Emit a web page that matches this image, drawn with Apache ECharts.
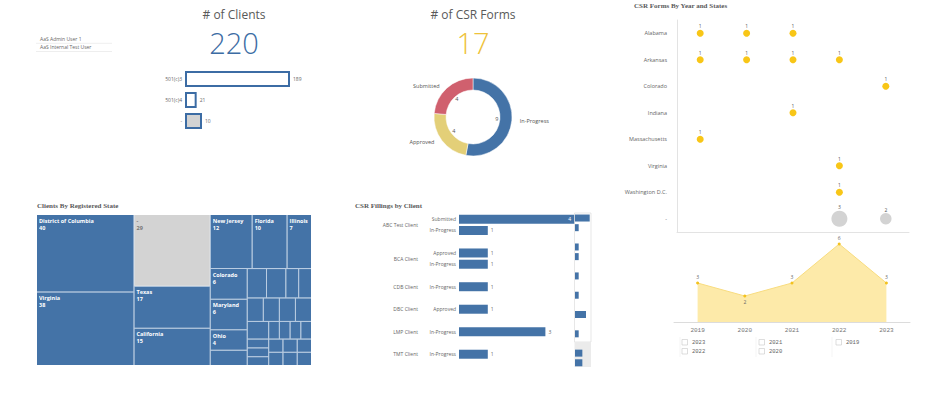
<!DOCTYPE html>
<html>
<head>
<meta charset="utf-8">
<script src="https://cdn.jsdelivr.net/npm/echarts@6/dist/echarts.min.js"></script>
<style>
  html, body { margin: 0; padding: 0; background: #fff; }
  #main { width: 940px; height: 398px; }
</style>
</head>
<body>
<div id="main"></div>
<script>
  // user list (top left)
  const users = ['AaS Admin User 1', 'AaS Internal Test User'];

  // KPIs
  const clientTotal = 220;
  const formTotal = 17;

  // clients by tax type
  const taxTypes = ['501(c)3', '501(c)4', '-'];
  const taxCounts = [189, 21, 10];

  // CSR forms by status
  const statusNames = ['In-Progress', 'Approved', 'Submitted'];
  const statusCounts = [9, 4, 4];

  // CSR forms by year and state
  const years = ['2019', '2020', '2021', '2022', '2023'];
  const formStates = ['Alabama', 'Arkansas', 'Colorado', 'Indiana', 'Massachusetts', 'Virginia', 'Washington D.C.', '-'];
  const formCounts = [
    [1, 1, 1, 0, 0],
    [1, 1, 1, 1, 0],
    [0, 0, 0, 0, 1],
    [0, 0, 1, 0, 0],
    [1, 0, 0, 0, 0],
    [0, 0, 0, 1, 0],
    [0, 0, 0, 1, 0],
    [0, 0, 0, 3, 2],
  ];
  const formsPerYear = [3, 2, 3, 6, 3];

  // clients by registered state (small cells have no readable name)
  const regStates = ['District of Columbia', 'Virginia', '-', 'Texas', 'California', 'New Jersey', 'Florida', 'Illinois',
    'Maryland', 'Colorado', 'Ohio', '', '', '', '', '', '', '', '', '', '', '', '', '', '', '', '', '', '', '', '', '', '', ''];
  const regCounts = [40, 38, 29, 17, 15, 12, 10, 7, 6, 6, 4, 3, 3, 3, 2, 2, 2, 2, 2, 2, 2, 1, 1, 1, 1, 1, 1, 1, 1, 1, 1, 1, 1, 1];

  // CSR filings by client, one slot per bar row (empty slots are gaps)
  const filingClients = ['ABC Test Client', 'BCA Client', 'CDB Client', 'DBC Client', 'LMP Client', 'TMT Client'];
  const slotStatus = ['Submitted', 'In-Progress', '', 'Approved', 'In-Progress', '', 'In-Progress', '', 'Approved', '', 'In-Progress', '', 'In-Progress', '', '', ''];
  const slotClient = [0, 0, null, 1, 1, null, 2, null, 3, null, 4, null, 5, null, 6, 6];
  const slotCounts = [4, 1, null, 1, 1, null, 1, null, 1, null, 3, null, 1, null, 2, 2];
  const visibleSlots = 13;

  const blue = '#4473a7';
  const kpiBlue = '#3c6ca4';
  const gold = '#eec23a';
  const yellow = '#f8c617';
  const grey = '#d3d3d3';
  const muted = '#666';
  const headFont = { fontFamily: 'Liberation Serif', fontWeight: 'bold', fontSize: 7, color: '#595959' };

  // client labels sit between their rows: use a finer axis (2 ticks per slot)
  const fineLabels = new Array(2 * visibleSlots + 1).fill('');
  filingClients.forEach((name, c) => {
    const idx = slotClient.map((v, i) => (v === c ? i : -1)).filter((i) => i >= 0 && i < visibleSlots);
    if (idx.length) fineLabels[idx[0] + idx[idx.length - 1] + 1] = name;
  });

  const scatterData = [];
  formCounts.forEach((row, s) => {
    row.forEach((v, y) => {
      if (v > 0) scatterData.push([y, s, v]);
    });
  });

  const filingMax = Math.max(...slotCounts.filter((v) => v != null));

  // listbox of years (2 rows per column, newest first)
  const boxCols = [682, 759, 836];
  const boxRows = [339.5, 348.5];
  const listGraphics = [];
  years.slice().reverse().forEach((yr, k) => {
    const x = boxCols[Math.floor(k / 2)];
    const y = boxRows[k % 2];
    listGraphics.push({
      type: 'rect', shape: { x: x, y: y, width: 5.5, height: 5.5 },
      style: { fill: '#fff', stroke: '#c8c8c8', lineWidth: 0.6 },
    });
    listGraphics.push({
      type: 'text', x: x + 10, y: y + 3,
      style: { text: yr, fill: muted, font: '5.5px "Liberation Mono"', align: 'left', verticalAlign: 'middle',
        textAlign: 'left', textVerticalAlign: 'middle' },
    });
  });
  [680, 756, 832].forEach((x) => {
    listGraphics.push({ type: 'line', shape: { x1: x, y1: 337, x2: x, y2: 357 }, style: { stroke: '#eeeeee', lineWidth: 0.6 } });
  });

  const chart = echarts.init(document.getElementById('main'), null, { renderer: 'svg' });

  chart.setOption({
    animation: false,
    textStyle: { fontFamily: 'Open Sans' },
    title: [
      { text: '# of Clients', left: 234, top: 8, textAlign: 'center', padding: 0,
        textStyle: { fontSize: 12, lineHeight: 13, fontWeight: 'normal', color: '#595959' } },
      { text: String(clientTotal), left: 234, top: 31, textAlign: 'center', padding: 0,
        textStyle: { fontSize: 29, lineHeight: 23, fontWeight: 300, color: kpiBlue } },
      { text: '# of CSR Forms', left: 473, top: 8, textAlign: 'center', padding: 0,
        textStyle: { fontSize: 12, lineHeight: 13, fontWeight: 'normal', color: '#595959' } },
      { text: String(formTotal), left: 473, top: 31, textAlign: 'center', padding: 0,
        textStyle: { fontSize: 29, lineHeight: 23, fontWeight: 300, color: gold } },
      { text: 'CSR Forms By Year and States', left: 634, top: 2, padding: 0, textStyle: headFont },
      { text: 'Clients By Registered State', left: 37, top: 202, padding: 0, textStyle: headFont },
      { text: 'CSR Fillings by Client', left: 355, top: 202, padding: 0, textStyle: headFont },
      { text: users[0], left: 40, top: 36.5, padding: 0, textStyle: { fontSize: 5, fontWeight: 'normal', color: muted } },
      { text: users[1], left: 40, top: 44.5, padding: 0, textStyle: { fontSize: 5, fontWeight: 'normal', color: muted } },
    ],
    graphic: [
      { type: 'line', shape: { x1: 36, y1: 43.3, x2: 112, y2: 43.3 }, style: { stroke: '#e2e2e2', lineWidth: 0.6 } },
      { type: 'line', shape: { x1: 36, y1: 51.5, x2: 112, y2: 51.5 }, style: { stroke: '#e2e2e2', lineWidth: 0.6 } },
      // scroll overview behind the mini bars
      { type: 'rect', shape: { x: 574.5, y: 213, width: 16.5, height: 129 }, style: { fill: '#fff', stroke: '#d6d6d6', lineWidth: 0.6 } },
      { type: 'rect', shape: { x: 574.5, y: 342, width: 16.5, height: 25 }, style: { fill: '#ebebeb' } },
      ...listGraphics,
    ],
    grid: [
      { left: 185, top: 68.5, width: 105, height: 63 },
      { left: 677, top: 20, width: 232, height: 212 },
      { left: 674, top: 231, width: 236, height: 91 },
      { left: 459, top: 213.6, width: 115.2, height: 146.25 },
      { left: 575, top: 213.2, width: 14.7, height: 154.4 },
    ],
    xAxis: [
      { gridIndex: 0, type: 'value', min: 0, max: 189, show: false },
      { gridIndex: 1, type: 'category', data: years, axisLine: { lineStyle: { color: '#e3e3e3' } },
        axisTick: { show: false }, axisLabel: { show: false } },
      { gridIndex: 2, type: 'category', data: years, axisLine: { lineStyle: { color: '#dcdcdc' } },
        axisTick: { show: false },
        axisLabel: { fontFamily: 'Liberation Mono', fontSize: 6, color: '#777', margin: 5 } },
      { gridIndex: 3, type: 'value', min: 0, max: 4, show: false },
      { gridIndex: 4, type: 'value', min: 0, max: 4, show: false },
    ],
    yAxis: [
      { gridIndex: 0, type: 'category', data: taxTypes, inverse: true, axisLine: { show: false }, axisTick: { show: false },
        axisLabel: { fontSize: 5, color: muted, margin: 3 } },
      { gridIndex: 1, type: 'category', data: formStates, inverse: true, axisLine: { lineStyle: { color: '#e3e3e3' } },
        axisTick: { show: false }, axisLabel: { fontSize: 5.5, color: muted, margin: 10 } },
      { gridIndex: 2, type: 'value', min: 0, max: 7, show: false },
      { gridIndex: 3, type: 'category', position: 'left', data: slotStatus.slice(0, visibleSlots), inverse: true,
        axisLine: { show: false }, axisTick: { show: false }, axisLabel: { interval: 0, fontSize: 5, color: muted, margin: 3 } },
      { gridIndex: 3, type: 'category', position: 'left', offset: 38, data: fineLabels, boundaryGap: false, inverse: true,
        axisLine: { show: false }, axisTick: { show: false }, axisLabel: { interval: 0, fontSize: 5, color: muted, margin: 3 } },
      { gridIndex: 4, type: 'category', data: slotStatus, inverse: true, show: false },
    ],
    series: [
      {
        type: 'bar', xAxisIndex: 0, yAxisIndex: 0, barWidth: 16, barGap: '-100%',
        data: taxCounts.map((v, i) => (taxTypes[i] === '-' ? null : v)),
        itemStyle: { color: '#fff', borderColor: kpiBlue, borderWidth: 2 },
        label: { show: true, position: 'right', fontSize: 5, color: muted, distance: 3 },
      },
      {
        type: 'bar', xAxisIndex: 0, yAxisIndex: 0, barWidth: 16, barGap: '-100%', barMinHeight: 17,
        data: taxCounts.map((v, i) => (taxTypes[i] === '-' ? v : null)),
        itemStyle: { color: grey, borderColor: kpiBlue, borderWidth: 2 },
        label: { show: true, position: 'right', fontSize: 5, color: muted, distance: 3 },
      },
      {
        type: 'pie', center: [473, 117], radius: [27, 39], startAngle: 90, clockwise: true,
        data: statusNames.map((n, i) => ({ name: n, value: statusCounts[i] })),
        color: [blue, '#e3cf78', '#d0606e'],
        itemStyle: { borderColor: '#fff', borderWidth: 0.5 },
        label: { show: true, position: 'outside', formatter: '{b}', fontSize: 5.5, color: '#555' },
        labelLine: { show: false, length: 3, length2: 0 },
        emphasis: { disabled: true },
      },
      {
        type: 'pie', center: [473, 117], radius: [0, 42], startAngle: 90, clockwise: true, silent: true,
        data: statusNames.map((n, i) => ({ name: n, value: statusCounts[i] })),
        itemStyle: { color: 'rgba(0,0,0,0)' },
        label: { show: true, position: 'inner', formatter: '{c}', fontSize: 5.5, color: '#555' },
        labelLine: { show: false },
        emphasis: { disabled: true },
      },
      {
        type: 'scatter', xAxisIndex: 1, yAxisIndex: 1, data: scatterData,
        symbolSize: (val) => 2.5 + 4.5 * val[2],
        itemStyle: { color: (p) => (formStates[p.value[1]] === '-' ? grey : yellow), opacity: 1 },
        label: { show: true, position: 'top', distance: 1, fontSize: 5, color: '#555', formatter: (p) => p.value[2] },
      },
      {
        type: 'line', xAxisIndex: 2, yAxisIndex: 2,
        data: formsPerYear.map((v, i) => (i > 0 && v < formsPerYear[i - 1] && v < formsPerYear[i + 1]
          ? { value: v, label: { position: 'bottom' } } : v)),
        symbol: 'circle', symbolSize: 3,
        lineStyle: { color: '#f8dc7f', width: 1 },
        itemStyle: { color: '#f3c21e' },
        areaStyle: { color: '#fdeaa9', opacity: 1 },
        label: { show: true, position: 'top', distance: 2, fontSize: 5, color: muted },
      },
      {
        type: 'treemap', left: 37, top: 215, width: 274, height: 150,
        roam: false, nodeClick: false, breadcrumb: { show: false },
        levels: [
          { itemStyle: { borderColor: '#b9cce2', borderWidth: 0, gapWidth: 1 } },
          { itemStyle: { borderWidth: 0, gapWidth: 0 } },
        ],
        label: {
          show: true, position: 'insideTopLeft', padding: [2, 2], fontSize: 5.5, lineHeight: 7, fontWeight: 'bold', color: '#fff',
          formatter: (p) => (p.value >= 4 ? `${p.name}\n${p.value}` : ''),
        },
        data: regStates.map((n, i) => ({
          name: n,
          value: regCounts[i],
          itemStyle: { color: n === '-' ? grey : blue },
          label: n === '-' ? { color: '#777' } : undefined,
        })),
      },
      {
        type: 'bar', xAxisIndex: 3, yAxisIndex: 3, barWidth: 9,
        data: slotCounts.slice(0, visibleSlots).map((v) => (v === filingMax
          ? { value: v, label: { position: 'insideRight', color: '#fff' } } : v)),
        itemStyle: { color: blue },
        label: { show: true, position: 'right', fontSize: 5, color: muted, distance: 3 },
      },
      {
        type: 'bar', xAxisIndex: 4, yAxisIndex: 5, barWidth: 7, silent: true,
        data: slotCounts,
        itemStyle: { color: blue },
      },
    ],
  });
</script>
</body>
</html>
